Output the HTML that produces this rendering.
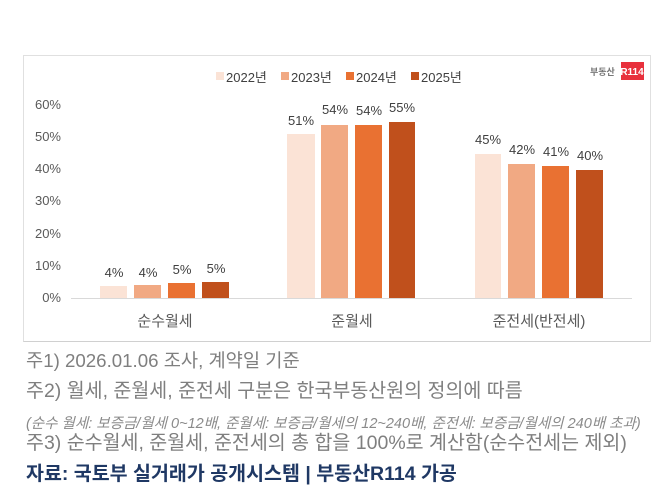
<!DOCTYPE html><html><head><meta charset="utf-8"><style>
body{margin:0;width:670px;height:494px;background:#fff;position:relative;overflow:hidden;font-family:"Liberation Sans","Noto Sans CJK KR",sans-serif}
.a{position:absolute;white-space:nowrap;line-height:1.2}
.n{color:#7f7f7f;font-size:19.5px;left:26px}
</style></head><body>
<div class="a" style="left:23px;top:55px;width:626px;height:285px;border:1px solid #e0e0e0;border-bottom:1px solid #d0d0d0"></div>
<svg class="a" style="left:0;top:0" width="670" height="340" font-family="Liberation Sans, Noto Sans CJK KR, sans-serif">
<g fill="#595959" font-size="13" text-anchor="end">
<text x="61" y="302">0%</text><text x="61" y="270">10%</text><text x="61" y="238">20%</text><text x="61" y="205">30%</text><text x="61" y="173">40%</text><text x="61" y="141">50%</text><text x="61" y="109">60%</text></g>
<line x1="71" y1="298.5" x2="632" y2="298.5" stroke="#d9d9d9"/>
<g font-size="13" fill="#404040">
<rect x="216" y="72" width="8" height="8" fill="#FBE3D6"/><text x="226" y="82">2022년</text>
<rect x="281" y="72" width="8" height="8" fill="#F1A983"/><text x="291" y="82">2023년</text>
<rect x="346" y="72" width="8" height="8" fill="#E97132"/><text x="356" y="82">2024년</text>
<rect x="411" y="72" width="8" height="8" fill="#C0501C"/><text x="421" y="82">2025년</text></g>
<text x="590" y="75" font-size="9" fill="#777" font-weight="bold">부동산</text>
<rect x="621" y="62" width="23" height="18" fill="#e8303c"/><text x="632" y="75" font-size="10" fill="#fff" font-weight="bold" text-anchor="middle">R114</text>
<g>
<rect x="100" y="286" width="27" height="12" fill="#FBE3D6"/><rect x="134" y="285" width="27" height="13" fill="#F1A983"/><rect x="168" y="283" width="27" height="15" fill="#E97132"/><rect x="202" y="282" width="27" height="16" fill="#C0501C"/>
<rect x="287" y="134" width="28" height="164" fill="#FBE3D6"/><rect x="321" y="125" width="27" height="173" fill="#F1A983"/><rect x="355" y="125" width="27" height="173" fill="#E97132"/><rect x="389" y="122" width="26" height="176" fill="#C0501C"/>
<rect x="475" y="154" width="26" height="144" fill="#FBE3D6"/><rect x="508" y="164" width="27" height="134" fill="#F1A983"/><rect x="542" y="166" width="27" height="132" fill="#E97132"/><rect x="576" y="170" width="27" height="128" fill="#C0501C"/></g>
<g font-size="13" fill="#404040" text-anchor="middle">
<text x="114" y="277">4%</text><text x="148" y="277">4%</text><text x="182" y="274">5%</text><text x="216" y="273">5%</text>
<text x="301" y="125">51%</text><text x="335" y="114">54%</text><text x="369" y="115">54%</text><text x="402" y="112">55%</text>
<text x="488" y="144">45%</text><text x="522" y="154">42%</text><text x="556" y="156">41%</text><text x="590" y="160">40%</text>
<g font-size="15" fill="#595959"><text x="165" y="326">순수월세</text><text x="352" y="326">준월세</text><text x="539" y="326">준전세(반전세)</text></g></g>
</svg>
<div class="a n" style="top:350px;font-size:18.7px">주1) 2026.01.06 조사, 계약일 기준</div>
<div class="a n" style="top:380px">주2) 월세, 준월세, 준전세 구분은 한국부동산원의 정의에 따름</div>
<div class="a n" style="top:416px;font-size:14.5px;font-style:italic;color:#8a8a8a">(순수 월세: 보증금/월세 0~12배, 준월세: 보증금/월세의 12~240배, 준전세: 보증금/월세의 240배 초과)</div>
<div class="a n" style="top:432px">주3) 순수월세, 준월세, 준전세의 총 합을 100%로 계산함(순수전세는 제외)</div>
<div class="a" style="left:26px;top:463px;font-size:19.5px;font-weight:bold;color:#1f3864">자료: 국토부 실거래가 공개시스템 | 부동산R114 가공</div>
</body></html>
